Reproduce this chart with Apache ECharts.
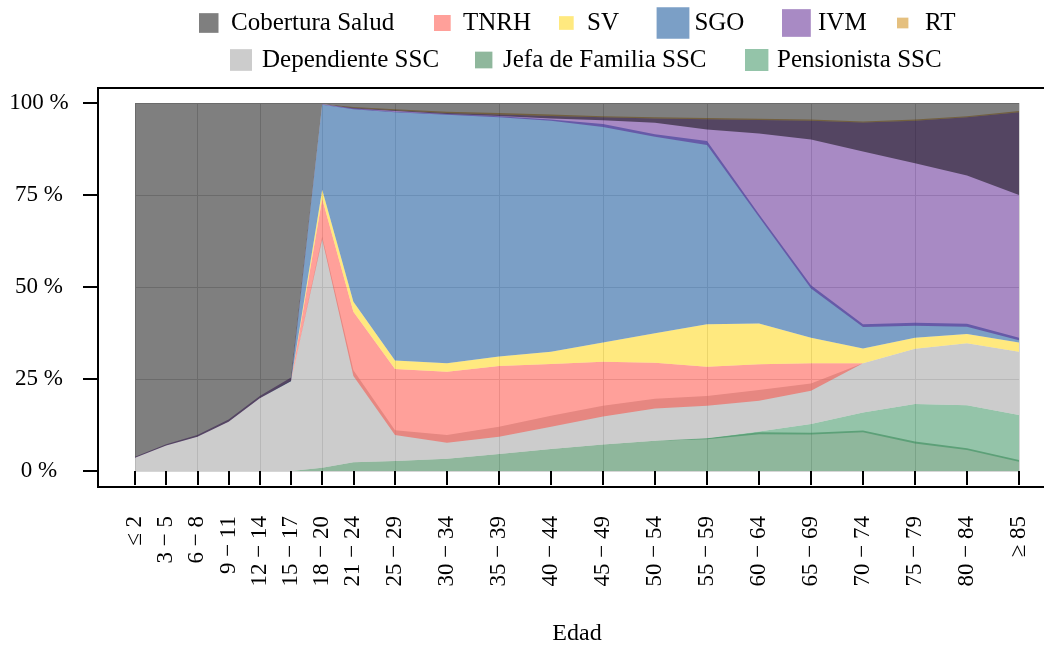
<!DOCTYPE html>
<html><head><meta charset="utf-8">
<script src="https://cdn.jsdelivr.net/npm/echarts@6/dist/echarts.min.js"></script>
<style>html,body{margin:0;padding:0;background:#fff}#c{width:1044px;height:646px}</style>
</head><body><div id="c"></div>
<script>
// ---- data ----
const ageMid = [1,4,7,10,13,16,19,22,26,31,36,41,46,51,56,61,66,71,76,81,86];
const ageLabels = ['≤ 2','3 − 5','6 − 8','9 − 11','12 − 14','15 − 17','18 − 20','21 − 24','25 − 29','30 − 34','35 − 39','40 − 44','45 − 49','50 − 54','55 − 59','60 − 64','65 − 69','70 − 74','75 − 79','80 − 84','≥ 85'];
const gridAges = [1,7,13,19,26,36,46,56,66,76,86];
const yTicks = [0,25,50,75,100];

const jefaLow  = [0,0,0,0,0,0,0,0,0,0,0,0,0,0,0,0,0,0,0,0,0];
const jefaHigh = [0,0,0,0,0,0,0.9,2.4,2.7,3.3,4.6,6.0,7.2,8.2,8.9,10.5,10.4,11.0,8.0,6.2,3.0];
const pensLow  = [0,0,0,0,0,0,0.9,2.4,2.7,3.3,4.6,6.0,7.2,8.2,8.6,10.0,9.9,10.5,7.5,5.7,2.5];
const pensHigh = [0,0,0,0,0,0,0.9,2.4,2.7,3.3,4.6,6.0,7.2,8.2,8.9,10.7,12.8,15.9,18.2,17.9,15.2];
const depLow   = [0,0,0,0,0,0,0.9,2.4,2.7,3.3,4.6,6.0,7.2,8.2,8.9,10.7,12.8,15.9,18.2,17.9,15.2];
const depHigh  = [3.6,6.9,9.3,13.4,19.8,24.4,63.7,27.4,11.1,9.8,12.0,15.0,17.7,19.6,20.4,22.0,23.8,29.3,33.2,34.7,32.4];
const tnrhLow  = [3.6,6.9,9.3,13.4,19.8,24.4,63.0,25.8,9.8,7.7,9.3,12.0,14.8,17.0,17.7,19.1,21.8,29.3,33.2,34.7,32.4];
const tnrhHigh = [3.6,6.9,9.3,13.4,19.8,24.4,74.0,43.3,27.7,27.0,28.5,29.1,29.7,29.4,28.3,29.0,29.3,29.3,33.2,34.7,32.4];
const svLow    = [3.6,6.9,9.3,13.4,19.8,24.4,74.0,43.3,27.7,27.0,28.5,29.1,29.7,29.4,28.3,29.0,29.3,29.3,33.2,34.7,32.4];
const svHigh   = [3.6,6.9,9.3,13.4,19.8,24.4,76.4,46.0,30.0,29.3,31.1,32.4,34.9,37.4,39.9,40.1,36.2,33.3,36.2,37.2,34.9];
const sgoLow   = [3.6,6.9,9.3,13.4,19.8,24.4,76.4,46.0,30.0,29.3,31.1,32.4,34.9,37.4,39.9,40.1,36.2,33.3,36.2,37.2,34.9];
const sgoHigh  = [3.6,6.9,9.3,13.4,19.8,24.6,99.6,98.5,97.6,97.0,96.4,95.5,94.3,91.5,89.7,69.8,50.5,39.9,40.3,40.0,36.2];
const ivmLow   = [3.6,6.9,9.3,13.4,19.8,24.5,99.5,98.3,97.5,96.8,96.1,95.2,93.5,90.8,88.6,69.0,49.6,39.1,39.5,39.2,35.5];
const ivmHigh  = [3.9,7.3,9.8,14.0,20.4,25.4,99.7,98.7,98.0,97.3,96.9,96.5,96.1,95.8,95.6,95.4,95.2,94.7,95.2,96.1,97.5];
const rtLow    = [3.9,7.3,9.8,14.0,20.4,25.4,99.7,98.7,98.0,97.3,96.9,96.5,96.1,95.8,95.6,95.4,95.2,94.7,95.2,96.1,97.5];
const rtHigh   = [3.9,7.3,9.8,14.0,20.4,25.4,99.7,98.9,98.3,97.6,97.3,96.9,96.4,96.1,95.9,95.7,95.5,95.0,95.5,96.4,97.8];
const cobLow   = [3.6,6.9,9.3,13.4,19.8,24.4,99.7,98.5,97.8,97.0,96.5,95.8,95.3,94.6,92.8,91.7,90.1,86.8,83.6,80.3,75.0];
const cobHigh  = [100,100,100,100,100,100,100,100,100,100,100,100,100,100,100,100,100,100,100,100,100];

// ---- chart ----
const FONT = '"Liberation Serif", "DejaVu Serif", serif';
const chart = echarts.init(document.getElementById('c'), null, {renderer: 'canvas'});

function band(name, low, high, color) {
  return {
    name: name, type: 'custom', coordinateSystem: 'cartesian2d',
    xAxisIndex: 0, yAxisIndex: 0, silent: true, clip: true,
    itemStyle: {color: color},
    encode: {x: 0, y: [1, 2]},
    data: ageMid.map((x, i) => [x, low[i], high[i]]),
    renderItem: function (params, api) {
      if (params.dataIndex !== 0) return null;
      const top = [], bot = [];
      for (let i = 0; i < ageMid.length; i++) {
        top.push(api.coord([api.value(0, i), api.value(2, i)]));
        bot.push(api.coord([api.value(0, i), api.value(1, i)]));
      }
      return {type: 'polygon', shape: {points: top.concat(bot.reverse())}, style: {fill: color}};
    }
  };
}

function legendAt(name, iconLeft, w, h, textStart, rowCenter) {
  const pad = Math.max(0, textStart - (iconLeft + w + 5));
  const th = 25;
  return {
    data: [name], left: iconLeft, top: rowCenter - Math.max(h, th) / 2, padding: 0,
    itemWidth: w, itemHeight: h, icon: 'rect', selectedMode: false,
    textStyle: {fontFamily: FONT, fontSize: 25, color: '#000', padding: [0, 0, 0, pad]}
  };
}

const option = {
  animation: false,
  backgroundColor: '#fff',
  grid: {left: 135, width: 884, top: 103, height: 368, containLabel: false, outerBoundsMode: 'none'},
  legend: [
    legendAt('Cobertura Salud', 199, 19.5, 19.7, 231, 23),
    legendAt('TNRH', 434, 16.7, 16, 463, 23),
    legendAt('SV', 559, 14.7, 13.7, 587, 23),
    legendAt('SGO', 656.6, 32.8, 31.7, 693, 23),
    legendAt('IVM', 782, 28.8, 27.7, 818, 23),
    legendAt('RT', 897, 11.4, 10.7, 925, 23),
    legendAt('Dependiente SSC', 230, 22, 21.7, 262, 60),
    legendAt('Jefa de Familia SSC', 475, 17.4, 16.7, 503, 60),
    legendAt('Pensionista SSC', 745, 23.4, 22, 777, 60)
  ],
  xAxis: [{
    type: 'value', min: 1, max: 86, position: 'bottom', offset: 16,
    name: 'Edad', nameLocation: 'middle', nameGap: 147,
    nameTextStyle: {fontFamily: FONT, fontSize: 24, color: '#000', verticalAlign: 'middle'},
    axisLine: {show: false},
    axisTick: {show: true, length: 14, customValues: ageMid, lineStyle: {color: '#000', width: 2}},
    axisLabel: {show: true, rotate: 90, margin: 29, customValues: ageMid,
      fontFamily: FONT, fontSize: 23, color: '#000',
      formatter: v => ageLabels[ageMid.indexOf(v)]},
    splitLine: {show: false}
  }, {
    type: 'value', min: 1, max: 86, position: 'bottom', offset: 0,
    axisLine: {show: false},
    axisLabel: {show: false},
    axisTick: {show: true, inside: true, length: 368, customValues: gridAges, lineStyle: {color: '#d6d6d6', width: 1}},
    splitLine: {show: false}
  }],
  yAxis: {
    type: 'value', min: 0, max: 100, interval: 25, offset: 37,
    axisLine: {show: false},
    axisTick: {show: true, length: 15, lineStyle: {color: '#000', width: 2}},
    axisLabel: {align: 'center', margin: 59, fontFamily: FONT, fontSize: 23, color: '#000',
      formatter: v => v + ' %'},
    splitLine: {show: true, lineStyle: {color: '#d6d6d6', width: 1}}
  },
  graphic: [{
    type: 'rect', silent: true, z: 100,
    shape: {x: 98, y: 88, width: 956, height: 399},
    style: {fill: 'none', stroke: '#000', lineWidth: 2}
  }],
  series: [
    band('Jefa de Familia SSC', jefaLow, jefaHigh, 'rgba(31,111,57,0.5)'),
    band('Pensionista SSC', pensLow, pensHigh, 'rgba(41,137,83,0.5)'),
    band('Dependiente SSC', depLow, depHigh, 'rgba(153,153,153,0.5)'),
    band('TNRH', tnrhLow, tnrhHigh, 'rgba(255,65,53,0.5)'),
    band('SV', svLow, svHigh, 'rgba(255,211,0,0.5)'),
    band('SGO', sgoLow, sgoHigh, 'rgba(35,95,160,0.6)'),
    band('IVM', ivmLow, ivmHigh, 'rgba(81,21,137,0.5)'),
    band('RT', rtLow, rtHigh, 'rgba(203,129,0,0.5)'),
    band('Cobertura Salud', cobLow, cobHigh, 'rgba(0,0,0,0.5)')
  ]
};
chart.setOption(option);
</script>
</body></html>
